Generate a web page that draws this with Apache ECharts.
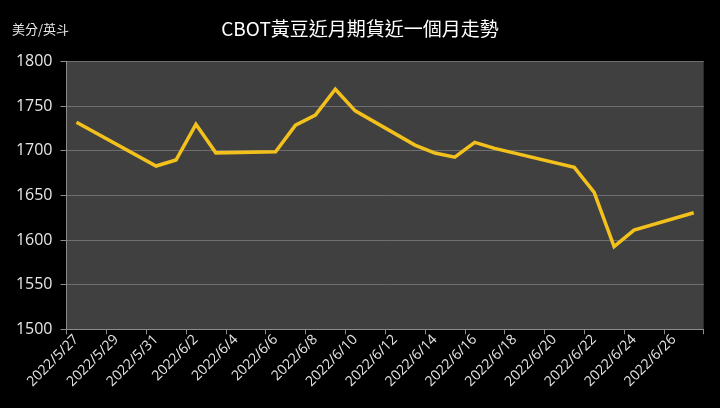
<!DOCTYPE html>
<html>
<head>
<meta charset="utf-8">
<script src="https://cdn.jsdelivr.net/npm/echarts@6/dist/echarts.min.js"></script>
<style>
html,body{margin:0;padding:0;background:#000;}
#c{width:720px;height:408px;}
</style>
</head>
<body>
<div id="c"></div>
<script>
var titleText = 'CBOT黃豆近月期貨近一個月走勢';
var unitText = '美分/英斗';
var dates = ['2022/5/27','2022/5/28','2022/5/29','2022/5/30','2022/5/31',
  '2022/6/1','2022/6/2','2022/6/3','2022/6/4','2022/6/5','2022/6/6','2022/6/7',
  '2022/6/8','2022/6/9','2022/6/10','2022/6/11','2022/6/12','2022/6/13','2022/6/14',
  '2022/6/15','2022/6/16','2022/6/17','2022/6/18','2022/6/19','2022/6/20','2022/6/21',
  '2022/6/22','2022/6/23','2022/6/24','2022/6/25','2022/6/26','2022/6/27'];
var prices = [1731.75, null, null, null, 1682.75,
  1689.5, 1729.5, 1697.5, null, null, 1698.75, 1728.5,
  1739.75, 1768.75, 1744.5, null, null, 1706.25, 1697.25,
  1692.75, 1709.25, 1702.5, null, null, null, 1681.25,
  1653.25, 1592.5, 1611, null, null, 1630.5];
var yTicks = {min: 1500, max: 1800, step: 50};

var chart = echarts.init(document.getElementById('c'));
var cjk = '"Noto Sans CJK TC","Noto Sans",sans-serif';
chart.setOption({
  backgroundColor: '#000000',
  animation: false,
  title: [
    {text: titleText, left: 'center', top: 14,
     textStyle: {color: '#ffffff', fontSize: 19, fontWeight: 'normal', fontFamily: cjk}},
    {text: unitText, left: 7, top: 18,
     textStyle: {color: '#e6e6e6', fontSize: 13, fontWeight: 'normal', fontFamily: cjk}}
  ],
  grid: {left: 66.5, right: 16.3, top: 61.3, bottom: 78.7, show: true,
         backgroundColor: '#404040', borderWidth: 0},
  xAxis: {
    type: 'category',
    data: dates,
    boundaryGap: true,
    axisLine: {show: true, lineStyle: {color: '#8c8c8c', width: 1}},
    axisTick: {show: true, interval: 1, length: 5, lineStyle: {color: '#8c8c8c'}},
    axisLabel: {interval: 1, rotate: 45, color: '#e6e6e6', fontSize: 14,
                fontFamily: '"Open Sans","Noto Sans",sans-serif', margin: 8},
    splitLine: {show: false}
  },
  yAxis: {
    type: 'value',
    min: yTicks.min, max: yTicks.max, interval: yTicks.step,
    axisLine: {show: true, lineStyle: {color: '#8c8c8c', width: 1}},
    axisTick: {show: true, length: 6, lineStyle: {color: '#8c8c8c'}},
    axisLabel: {color: '#e6e6e6', fontSize: 16, margin: 14,
                formatter: function (v) { return String(v); },
                fontFamily: '"Open Sans","Noto Sans",sans-serif'},
    splitLine: {show: true, lineStyle: {color: '#6e6e6e', width: 1}}
  },
  series: [{
    type: 'line',
    data: prices,
    connectNulls: true,
    showSymbol: false,
    symbol: 'none',
    lineStyle: {color: '#F3C11B', width: 3.5, join: 'miter'},
    itemStyle: {color: '#F3C11B'}
  }]
});
</script>
</body>
</html>
